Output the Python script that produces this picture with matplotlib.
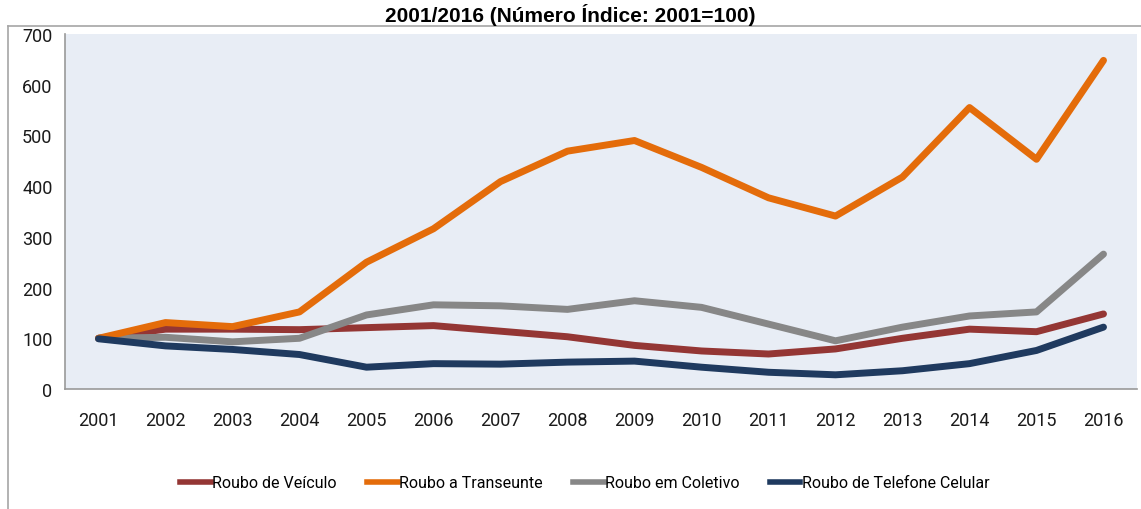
import matplotlib
matplotlib.use('Agg')
import matplotlib.pyplot as plt
from matplotlib.lines import Line2D

# data (index, 2001 = 100)
anos = ['2001', '2002', '2003', '2004', '2005', '2006', '2007', '2008',
        '2009', '2010', '2011', '2012', '2013', '2014', '2015', '2016']
veiculo = [100, 118, 118, 117, 121, 125, 114, 103, 86, 75, 69, 79, 100, 118, 113, 148]
transeunte = [100, 131, 123, 152, 250, 316, 409, 469, 490, 437, 377, 341, 418, 555, 453, 648]
coletivo = [100, 102, 93, 100, 146, 166, 164, 157, 174, 161, 128, 95, 122, 144, 152, 266]
celular = [99, 85, 78, 68, 43, 50, 49, 53, 55, 43, 33, 28, 36, 50, 76, 122]

nomes = ['Roubo de Veículo', 'Roubo a Transeunte', 'Roubo em Coletivo',
         'Roubo de Telefone Celular']
cores = ['#943634', '#E46C0A', '#878787', '#1F3A5F']

# no condensed face here, Roboto is the narrowest of the installed ones
narrow = ['Roboto', 'DejaVu Sans']

fig = plt.figure(figsize=(11.41, 5.10), dpi=100)

# outer frame of the pasted chart
fig.add_artist(Line2D([8/1141, 8/1141], [0, 1 - 27/510], color='#A6A6A6', lw=1.2))
fig.add_artist(Line2D([8/1141, 1.0], [1 - 27/510, 1 - 27/510], color='#A6A6A6', lw=1.2))

# title (sits right above the frame)
fig.text(0.5, 1 - 22/510, '2001/2016 (Número Índice: 2001=100)', ha='center',
         va='baseline', fontsize=15, fontweight='bold', family='Liberation Sans')

ax = fig.add_axes([65/1141, 120/510, 1072/1141, 355/510])
ax.set_facecolor('#E8EDF5')

x = list(range(len(anos)))
series = [veiculo, transeunte, coletivo, celular]
# draw so the stacking order looks like the reference
for idx in [0, 2, 1, 3]:
    ax.plot(x, series[idx], color=cores[idx], lw=5, solid_capstyle='round',
            solid_joinstyle='round', label=nomes[idx])

ax.set_xlim(-0.5, len(anos) - 0.5)
ax.set_ylim(0, 700)
ax.set_yticks(range(0, 701, 100))
ax.set_xticks(x)
ax.set_xticklabels(anos)
ax.tick_params(length=0, labelsize=13, colors='#1A1A1A')
ax.tick_params(axis='x', pad=16)
ax.tick_params(axis='y', pad=9)
for lab in ax.get_xticklabels() + ax.get_yticklabels():
    lab.set_family(narrow)

for s in ['top', 'right']:
    ax.spines[s].set_visible(False)
for s in ['left', 'bottom']:
    ax.spines[s].set_color('#999999')
    ax.spines[s].set_linewidth(1.2)

handles = [Line2D([], [], color=c, lw=4) for c in cores]
leg = fig.legend(handles, nomes, loc='center', bbox_to_anchor=(585/1141, 1 - 484/510),
                 ncol=4, frameon=False, handlelength=1.9,
                 handletextpad=0.1, columnspacing=1.9, prop={'family': narrow, 'size': 11.5})

fig.savefig('out.png', dpi=100)
